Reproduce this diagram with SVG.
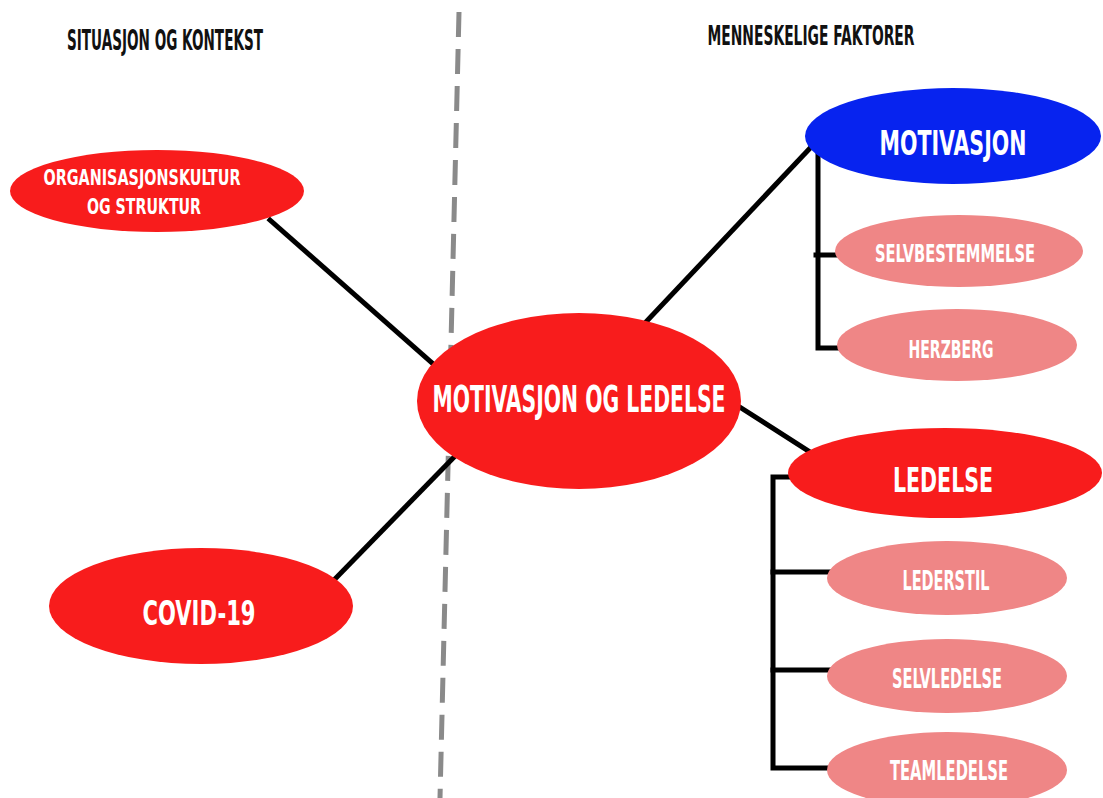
<svg xmlns="http://www.w3.org/2000/svg" width="1103" height="798" viewBox="0 0 1103 798">
  <style>
    text { font-family: "DejaVu Sans Condensed", "DejaVu Sans", sans-serif; font-weight: bold; font-stretch: condensed; text-anchor: middle; }
    .hdr { fill: #111111; }
    .lbl { fill: #ffffff; }
    .red { fill: #f81c1c; }
    .blue { fill: #0723ef; }
    .pink { fill: #ef8686; }
    .link { stroke: #000000; stroke-width: 5; fill: none; stroke-linecap: square; }
    .divider { stroke: #8a8a8a; stroke-width: 5; stroke-dasharray: 25 12; fill: none; }
  </style>

  <rect width="1103" height="798" fill="#ffffff"/>

  <!-- dashed divider between the two halves -->
  <line class="divider" x1="459" y1="12" x2="440" y2="798"/>

  <!-- column headings -->
  <text class="hdr" x="165" y="50" font-size="28" textLength="196" lengthAdjust="spacingAndGlyphs">SITUASJON OG KONTEKST</text>
  <text class="hdr" x="811" y="45" font-size="26" textLength="207" lengthAdjust="spacingAndGlyphs">MENNESKELIGE FAKTORER</text>

  <!-- connectors -->
  <g id="connectors">
    <line class="link" x1="270" y1="220" x2="440" y2="370"/>
    <line class="link" x1="336" y1="578" x2="458" y2="453"/>
    <line class="link" x1="645" y1="323" x2="812" y2="146"/>
    <line class="link" x1="735" y1="404" x2="810" y2="452"/>
    <!-- motivasjon bracket -->
    <polyline class="link" points="818,150 818,348 842,348"/>
    <line class="link" x1="816" y1="255" x2="838" y2="255"/>
    <!-- ledelse bracket -->
    <polyline class="link" points="792,477 773,477 773,768 832,768"/>
    <line class="link" x1="773" y1="572" x2="832" y2="572"/>
    <line class="link" x1="773" y1="670" x2="832" y2="670"/>
  </g>

  <g id="node-organisasjonskultur">
    <ellipse class="red" cx="157" cy="191" rx="147" ry="41"/>
    <text class="lbl" x="142" y="185" font-size="21" textLength="197" lengthAdjust="spacingAndGlyphs">ORGANISASJONSKULTUR</text>
    <text class="lbl" x="144" y="214" font-size="21" textLength="114" lengthAdjust="spacingAndGlyphs">OG STRUKTUR</text>
  </g>

  <g id="node-covid">
    <ellipse class="red" cx="201" cy="606" rx="152" ry="58"/>
    <text class="lbl" x="199" y="625" font-size="34" textLength="113" lengthAdjust="spacingAndGlyphs">COVID-19</text>
  </g>

  <g id="node-motivasjon-og-ledelse">
    <ellipse class="red" cx="579" cy="401" rx="162" ry="88"/>
    <text class="lbl" x="579" y="412" font-size="37" textLength="293" lengthAdjust="spacingAndGlyphs">MOTIVASJON OG LEDELSE</text>
  </g>

  <g id="node-motivasjon">
    <ellipse class="blue" cx="953" cy="136" rx="148" ry="48"/>
    <text class="lbl" x="953" y="155" font-size="34" textLength="147" lengthAdjust="spacingAndGlyphs">MOTIVASJON</text>
  </g>

  <g id="node-selvbestemmelse">
    <ellipse class="pink" cx="959" cy="251" rx="124" ry="36"/>
    <text class="lbl" x="955" y="262" font-size="25" textLength="160" lengthAdjust="spacingAndGlyphs">SELVBESTEMMELSE</text>
  </g>

  <g id="node-herzberg">
    <ellipse class="pink" cx="957" cy="345" rx="120" ry="36"/>
    <text class="lbl" x="951" y="358" font-size="25" textLength="85" lengthAdjust="spacingAndGlyphs">HERZBERG</text>
  </g>

  <g id="node-ledelse">
    <ellipse class="red" cx="945" cy="473" rx="157" ry="45"/>
    <text class="lbl" x="943" y="492" font-size="33" textLength="100" lengthAdjust="spacingAndGlyphs">LEDELSE</text>
  </g>

  <g id="node-lederstil">
    <ellipse class="pink" cx="947" cy="578" rx="120" ry="37"/>
    <text class="lbl" x="946" y="590" font-size="26" textLength="87" lengthAdjust="spacingAndGlyphs">LEDERSTIL</text>
  </g>

  <g id="node-selvledelse">
    <ellipse class="pink" cx="947" cy="676" rx="120" ry="37"/>
    <text class="lbl" x="947" y="688" font-size="26" textLength="110" lengthAdjust="spacingAndGlyphs">SELVLEDELSE</text>
  </g>

  <g id="node-teamledelse">
    <ellipse class="pink" cx="947" cy="770" rx="120" ry="38"/>
    <text class="lbl" x="949" y="780" font-size="26" textLength="118" lengthAdjust="spacingAndGlyphs">TEAMLEDELSE</text>
  </g>
</svg>
